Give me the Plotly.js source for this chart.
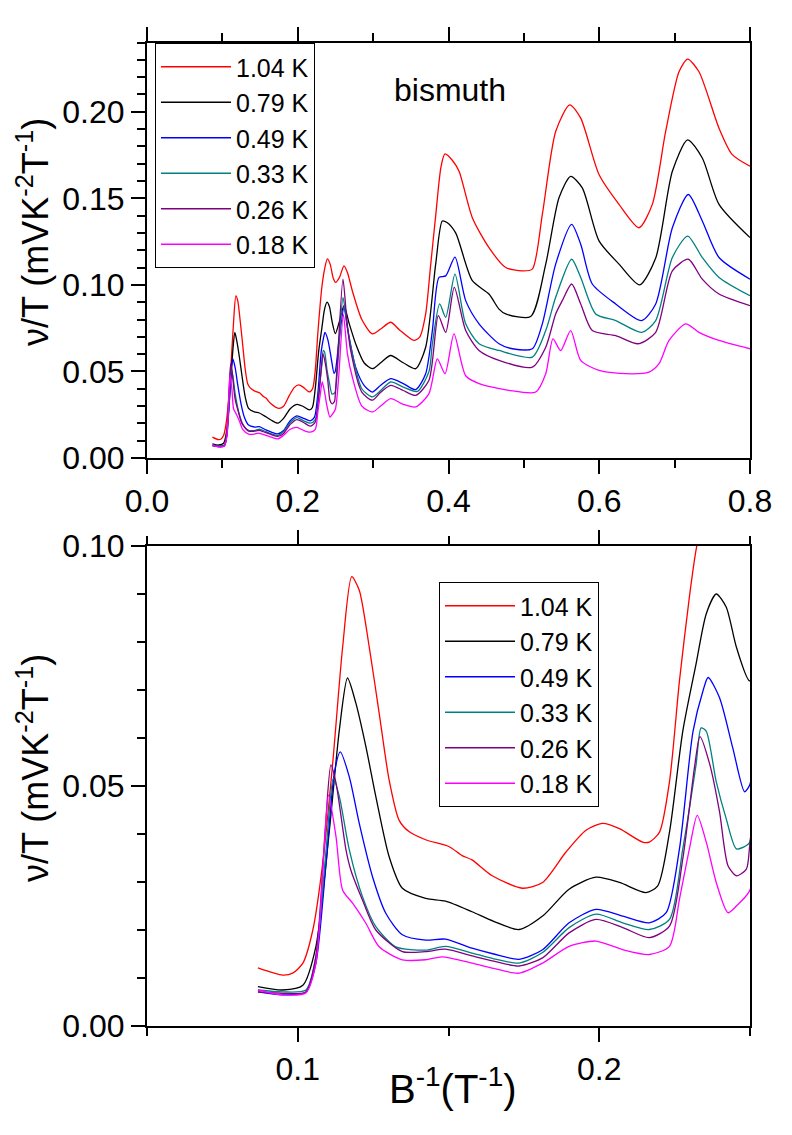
<!DOCTYPE html>
<html>
<head>
<meta charset="utf-8">
<script src="https://cdn.plot.ly/plotly-3.0.1.min.js"></script>
<style>html,body{margin:0;padding:0;background:#fff;}</style>
</head>
<body>
<div id="chart" style="width:792px;height:1135px;"></div>
<script>
// ---- data ----
const names = ["1.04 K", "0.79 K", "0.49 K", "0.33 K", "0.26 K", "0.18 K"];
const colors = ["#ff0000", "#000000", "#0000ff", "#008080", "#800080", "#ff00ff"];

const x104 = [0.0868,0.0950,0.0983,0.1017,0.1050,0.1083,0.1116,0.1149,0.1179,0.1204,0.1237,0.1270,0.1303,0.1336,0.1369,0.1424,0.1501,0.1545,0.1578,0.1645,0.1745,0.1812,0.1889,0.1956,0.2011,0.2067,0.2144,0.2166,0.2200,0.2233,0.2266,0.2299,0.2322,0.2360,0.2393,0.2430,0.2470,0.2503,0.2550,0.2614,0.2660,0.2724,0.2850,0.2990,0.3100,0.3233,0.3350,0.3542,0.3620,0.3697,0.3760,0.3830,0.3900,0.3953,0.4050,0.4140,0.4316,0.4537,0.4759,0.4979,0.5112,0.5245,0.5422,0.5608,0.5754,0.5997,0.6262,0.6527,0.6704,0.6881,0.7058,0.7173,0.7323,0.7589,0.7765,0.8000];
const y104 = [0.0121,0.0106,0.0110,0.0131,0.0200,0.0340,0.0548,0.0790,0.0936,0.0908,0.0790,0.0652,0.0513,0.0429,0.0405,0.0388,0.0374,0.0355,0.0346,0.0313,0.0287,0.0299,0.0362,0.0408,0.0422,0.0411,0.0383,0.0383,0.0404,0.0509,0.0719,0.0894,0.0995,0.1100,0.1150,0.1120,0.1040,0.1014,0.1040,0.1110,0.1070,0.0966,0.0800,0.0717,0.0745,0.0784,0.0740,0.0679,0.0700,0.0832,0.1100,0.1400,0.1680,0.1756,0.1720,0.1656,0.1388,0.1215,0.1100,0.1081,0.1091,0.1407,0.1886,0.2040,0.1963,0.1637,0.1465,0.1330,0.1465,0.1886,0.2231,0.2304,0.2231,0.1905,0.1752,0.1685];

const x079 = [0.0868,0.0950,0.1017,0.1060,0.1105,0.1138,0.1165,0.1193,0.1226,0.1259,0.1303,0.1347,0.1424,0.1490,0.1578,0.1650,0.1734,0.1812,0.1900,0.1989,0.2067,0.2155,0.2194,0.2233,0.2277,0.2321,0.2355,0.2388,0.2421,0.2455,0.2499,0.2547,0.2614,0.2680,0.2768,0.2880,0.2990,0.3100,0.3233,0.3400,0.3565,0.3697,0.3830,0.3918,0.3980,0.4095,0.4316,0.4537,0.4670,0.4759,0.5090,0.5290,0.5466,0.5621,0.5775,0.5997,0.6262,0.6536,0.6749,0.6970,0.7173,0.7367,0.7589,0.8000];
const y079 = [0.0082,0.0075,0.0085,0.0165,0.0408,0.0617,0.0725,0.0672,0.0582,0.0478,0.0353,0.0287,0.0266,0.0260,0.0238,0.0218,0.0201,0.0229,0.0285,0.0310,0.0299,0.0278,0.0292,0.0404,0.0614,0.0754,0.0859,0.0900,0.0873,0.0789,0.0719,0.0780,0.0880,0.0780,0.0660,0.0550,0.0516,0.0550,0.0592,0.0550,0.0516,0.0640,0.1120,0.1369,0.1360,0.1300,0.1024,0.0947,0.0860,0.0832,0.0817,0.1120,0.1503,0.1627,0.1560,0.1254,0.1120,0.1000,0.1155,0.1656,0.1838,0.1733,0.1465,0.1273];

const x049 = [0.0868,0.0950,0.1027,0.1060,0.1094,0.1121,0.1141,0.1171,0.1204,0.1248,0.1292,0.1347,0.1424,0.1490,0.1578,0.1650,0.1734,0.1812,0.1900,0.1989,0.2078,0.2166,0.2222,0.2266,0.2311,0.2344,0.2361,0.2399,0.2443,0.2482,0.2499,0.2547,0.2614,0.2660,0.2768,0.2880,0.2990,0.3100,0.3233,0.3400,0.3565,0.3697,0.3786,0.3874,0.3963,0.4086,0.4228,0.4405,0.4670,0.4847,0.5112,0.5245,0.5422,0.5634,0.5754,0.5908,0.6218,0.6563,0.6749,0.6970,0.7182,0.7367,0.7589,0.8000];
const y049 = [0.0071,0.0065,0.0071,0.0130,0.0339,0.0526,0.0571,0.0519,0.0422,0.0311,0.0235,0.0190,0.0179,0.0181,0.0162,0.0150,0.0139,0.0159,0.0215,0.0243,0.0229,0.0215,0.0236,0.0369,0.0614,0.0698,0.0726,0.0684,0.0579,0.0488,0.0502,0.0679,0.0870,0.0750,0.0525,0.0420,0.0381,0.0420,0.0458,0.0430,0.0395,0.0487,0.0736,0.1043,0.1052,0.1160,0.0909,0.0775,0.0660,0.0631,0.0631,0.0775,0.1120,0.1350,0.1235,0.1005,0.0890,0.0794,0.0890,0.1330,0.1522,0.1369,0.1158,0.1033];

const x033 = [0.0868,0.0950,0.1027,0.1060,0.1094,0.1118,0.1138,0.1171,0.1215,0.1259,0.1325,0.1424,0.1490,0.1578,0.1650,0.1734,0.1812,0.1900,0.1989,0.2078,0.2166,0.2233,0.2277,0.2321,0.2338,0.2355,0.2388,0.2421,0.2455,0.2488,0.2499,0.2547,0.2600,0.2660,0.2724,0.2850,0.2990,0.3100,0.3233,0.3400,0.3587,0.3741,0.3786,0.3883,0.3963,0.4086,0.4228,0.4405,0.4670,0.5112,0.5290,0.5422,0.5634,0.5754,0.5953,0.6218,0.6563,0.6749,0.6970,0.7173,0.7367,0.7589,0.8000];
const y033 = [0.0075,0.0071,0.0075,0.0144,0.0367,0.0516,0.0478,0.0367,0.0269,0.0207,0.0165,0.0158,0.0166,0.0152,0.0140,0.0131,0.0153,0.0205,0.0233,0.0215,0.0201,0.0222,0.0369,0.0544,0.0621,0.0614,0.0509,0.0432,0.0369,0.0376,0.0383,0.0640,0.0928,0.0750,0.0600,0.0400,0.0353,0.0390,0.0439,0.0410,0.0385,0.0500,0.0660,0.0890,0.0813,0.1062,0.0775,0.0660,0.0621,0.0583,0.0736,0.0928,0.1148,0.1043,0.0832,0.0794,0.0726,0.0794,0.1158,0.1282,0.1158,0.1043,0.0937];

const x026 = [0.0868,0.0950,0.1027,0.1060,0.1091,0.1110,0.1127,0.1160,0.1176,0.1215,0.1259,0.1347,0.1424,0.1490,0.1578,0.1650,0.1734,0.1812,0.1900,0.1989,0.2078,0.2166,0.2233,0.2277,0.2317,0.2334,0.2367,0.2399,0.2427,0.2455,0.2488,0.2499,0.2525,0.2600,0.2650,0.2702,0.2850,0.2990,0.3100,0.3233,0.3400,0.3565,0.3741,0.3865,0.3963,0.4077,0.4228,0.4405,0.4670,0.5112,0.5290,0.5422,0.5510,0.5634,0.5754,0.5908,0.6218,0.6518,0.6749,0.6970,0.7182,0.7367,0.7589,0.8000];
const y026 = [0.0071,0.0068,0.0071,0.0144,0.0408,0.0544,0.0506,0.0367,0.0325,0.0262,0.0200,0.0155,0.0155,0.0160,0.0146,0.0135,0.0125,0.0142,0.0194,0.0222,0.0205,0.0184,0.0208,0.0348,0.0544,0.0603,0.0544,0.0446,0.0334,0.0313,0.0327,0.0376,0.0545,0.1033,0.0800,0.0621,0.0380,0.0334,0.0380,0.0420,0.0390,0.0362,0.0449,0.0822,0.0726,0.0985,0.0736,0.0621,0.0564,0.0525,0.0640,0.0832,0.0909,0.1005,0.0890,0.0736,0.0707,0.0660,0.0726,0.1081,0.1148,0.1033,0.0947,0.0880];

const x018 = [0.0868,0.0950,0.1027,0.1060,0.1088,0.1102,0.1127,0.1149,0.1182,0.1226,0.1270,0.1347,0.1424,0.1479,0.1578,0.1650,0.1734,0.1812,0.1900,0.1989,0.2078,0.2166,0.2233,0.2266,0.2299,0.2325,0.2355,0.2388,0.2427,0.2455,0.2499,0.2540,0.2605,0.2660,0.2724,0.2850,0.2990,0.3100,0.3233,0.3400,0.3565,0.3741,0.3852,0.3954,0.4073,0.4228,0.4405,0.4803,0.5157,0.5290,0.5386,0.5488,0.5621,0.5754,0.5997,0.6351,0.6660,0.6793,0.6926,0.7147,0.7323,0.7589,0.8000];
const y018 = [0.0075,0.0065,0.0069,0.0130,0.0374,0.0481,0.0394,0.0283,0.0256,0.0214,0.0165,0.0138,0.0138,0.0144,0.0131,0.0120,0.0110,0.0131,0.0166,0.0177,0.0159,0.0149,0.0166,0.0264,0.0369,0.0439,0.0383,0.0299,0.0236,0.0250,0.0282,0.0450,0.0830,0.0600,0.0468,0.0300,0.0266,0.0300,0.0343,0.0310,0.0295,0.0372,0.0573,0.0487,0.0717,0.0475,0.0430,0.0391,0.0381,0.0487,0.0688,0.0621,0.0736,0.0564,0.0506,0.0487,0.0496,0.0545,0.0679,0.0775,0.0726,0.0679,0.0631];

const xTitle = "B<sup>-1</sup>(T<sup>-1</sup>)";
const yTitle = "\u03bd/T (mVK<sup>-2</sup>T<sup>-1</sup>)";
const sampleLabel = "bismuth";

// ---- build ----
const xs = [x104, x079, x049, x033, x026, x018];
const ys = [y104, y079, y049, y033, y026, y018];
const FONT = "Liberation Sans, Arial, sans-serif";
const W = 792, H = 1135;
const px = v => v / W;
const py = v => 1 - v / H;

const traces = [];
[["x","y","legend"],["x2","y2","legend2"]].forEach(([xa, ya, lg]) => {
  names.forEach((n, i) => {
    traces.push({
      x: xs[i], y: ys[i], type: "scatter", mode: "lines", name: n,
      xaxis: xa, yaxis: ya, legend: lg,
      line: {color: colors[i], width: 1.3, shape: "spline", smoothing: 0.7},
      hoverinfo: "skip"
    });
  });
});

const axBase = {
  showline: true, linewidth: 2, linecolor: "#000",
  ticks: "outside", ticklen: 14, tickwidth: 2, tickcolor: "#000",
  showgrid: false, zeroline: false,
  tickfont: {size: 32, family: FONT, color: "#000"}
};
const minorBase = {ticks: "outside", ticklen: 8, tickwidth: 2, tickcolor: "#000", showgrid: false};
const xDom = [px(147), px(750)];

const legendBase = {
  xanchor: "left", yanchor: "top", bgcolor: "#fff",
  bordercolor: "#000", borderwidth: 1,
  font: {size: 25, family: FONT, color: "#000"},
  itemwidth: 70, traceorder: "normal", itemclick: false, itemdoubleclick: false
};

const layout = {
  width: W, height: H,
  margin: {l: 0, r: 0, t: 0, b: 0},
  paper_bgcolor: "#fff", plot_bgcolor: "#fff",
  font: {family: FONT, color: "#000"},
  showlegend: true,
  xaxis: Object.assign({}, axBase, {
    domain: xDom, anchor: "y", range: [0, 0.8], tick0: 0, dtick: 0.2, tickformat: ".1f",
    mirror: "ticks", minor: Object.assign({}, minorBase, {tick0: 0, dtick: 0.1})
  }),
  yaxis: Object.assign({}, axBase, {
    domain: [py(458), py(42.5)], anchor: "x", range: [0, 0.24], tick0: 0, dtick: 0.05, tickformat: ".2f",
    mirror: true, minor: Object.assign({}, minorBase, {tick0: 0, dtick: 0.01})
  }),
  xaxis2: Object.assign({}, axBase, {
    domain: xDom, anchor: "y2", range: [0.05, 0.25], tick0: 0, dtick: 0.1, tickformat: ".1f",
    mirror: "ticks", minor: Object.assign({}, minorBase, {tick0: 0, dtick: 0.05})
  }),
  yaxis2: Object.assign({}, axBase, {
    domain: [py(1026), py(546)], anchor: "x2", range: [0, 0.1], tick0: 0, dtick: 0.05, tickformat: ".2f",
    mirror: true, minor: Object.assign({}, minorBase, {tick0: 0, dtick: 0.01})
  }),
  legend: Object.assign({}, legendBase, {x: px(155), y: py(43)}),
  legend2: Object.assign({}, legendBase, {x: px(439), y: py(582)}),
  annotations: [
    {text: sampleLabel, xref: "paper", yref: "paper", x: px(450), y: py(90),
     xanchor: "center", yanchor: "middle", showarrow: false, font: {size: 32, family: FONT, color: "#000"}},
    {text: yTitle, xref: "paper", yref: "paper", x: px(33), y: py(232), textangle: -90,
     xanchor: "center", yanchor: "middle", showarrow: false, font: {size: 36, family: FONT, color: "#000"}},
    {text: yTitle, xref: "paper", yref: "paper", x: px(33), y: py(768), textangle: -90,
     xanchor: "center", yanchor: "middle", showarrow: false, font: {size: 36, family: FONT, color: "#000"}},
    {text: xTitle, xref: "paper", yref: "paper", x: px(453), y: py(1086),
     xanchor: "center", yanchor: "middle", showarrow: false, font: {size: 40, family: FONT, color: "#000"}}
  ]
};

Plotly.newPlot("chart", traces, layout, {displayModeBar: false, staticPlot: true});
</script>
</body>
</html>
